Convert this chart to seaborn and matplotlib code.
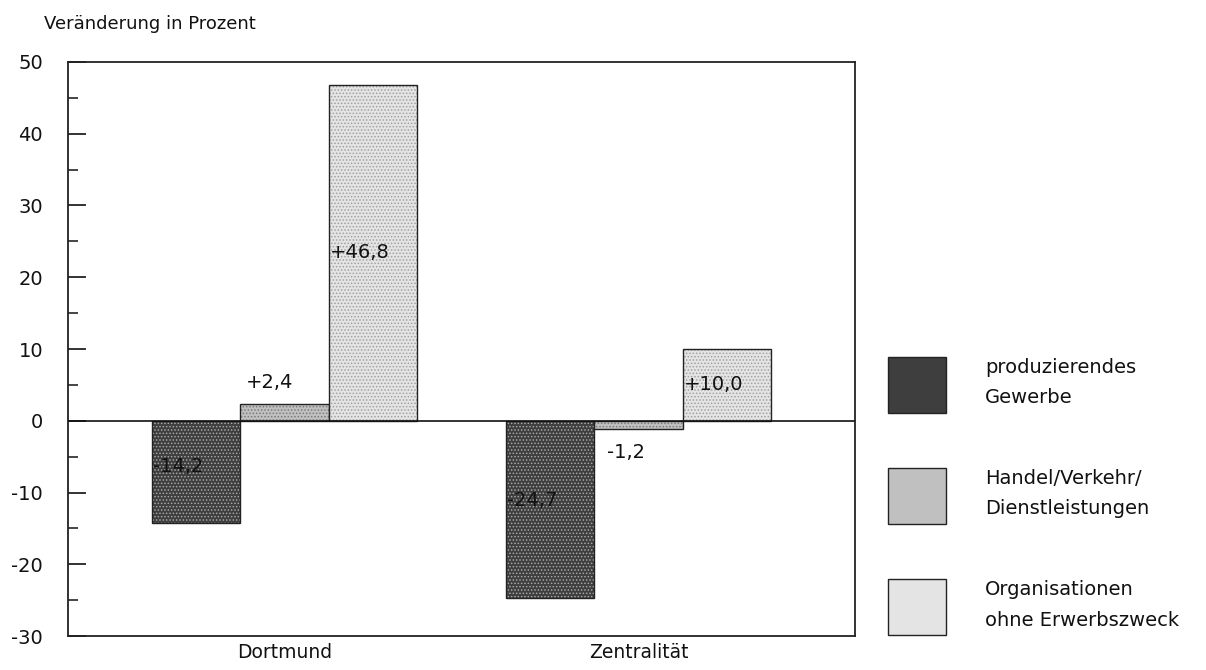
import matplotlib
matplotlib.use("Agg")
import matplotlib.pyplot as plt
import seaborn as sns
import pandas as pd
from matplotlib.ticker import MultipleLocator

# Data: change in percent by economic sector
gebiete = ["Dortmund", "Zentralität"]
bereiche = ["produzierendes\nGewerbe",
            "Handel/Verkehr/\nDienstleistungen",
            "Organisationen\nohne Erwerbszweck"]
werte_dortmund = [-14.2, 2.4, 46.8]
werte_zentral = [-24.7, -1.2, 10.0]
beschriftungen_dortmund = ["-14,2", "+2,4", "+46,8"]
beschriftungen_zentral = ["-24,7", "-1,2", "+10,0"]

df = pd.DataFrame({
    "Gebiet": [g for g in gebiete for _ in bereiche],
    "Bereich": bereiche * 2,
    "Wert": werte_dortmund + werte_zentral,
    "Label": beschriftungen_dortmund + beschriftungen_zentral,
})

sns.set_theme(style="white")
plt.rcParams["font.family"] = ["DejaVu Sans"]
plt.rcParams["axes.unicode_minus"] = False
plt.rcParams["hatch.linewidth"] = 0.7

farben = ["#3e3e3e", "#c0c0c0", "#e4e4e4"]
punktfarben = ["#a8a8a8", "#7a7a7a", "#a0a0a0"]
muster = ".....", ".....", "....."

fig = plt.figure(figsize=(12.06, 6.70), dpi=100)
ax = fig.add_axes([0.0564, 0.0507, 0.6526, 0.8568])

sns.barplot(data=df, x="Gebiet", y="Wert", hue="Bereich", hue_order=bereiche,
            order=gebiete, palette=farben, width=0.75, edgecolor="#222222",
            linewidth=1.0, saturation=1, ax=ax, errorbar=None)


def stipple(patch, h, c):
    patch.set_hatch(h)
    if hasattr(patch, "set_hatchcolor"):
        patch.set_hatchcolor(c)
    else:
        patch._hatch_color = matplotlib.colors.to_rgba(c)


for cont, h, c in zip(ax.containers, muster, punktfarben):
    for bar in cont:
        stipple(bar, h, c)

# value labels
for i, cont in enumerate(ax.containers):
    sub = df[df["Bereich"] == bereiche[i]].set_index("Gebiet").loc[gebiete]
    for bar, (_, row) in zip(cont, sub.iterrows()):
        v = row["Wert"]
        x0 = bar.get_x()
        if v >= 5:
            ax.text(x0 + 0.003, v / 2, row["Label"], ha="left", va="center",
                    fontsize=14, color="#111111")
        elif v <= -5:
            ax.text(x0 + 0.003, v * 0.45, row["Label"], ha="left", va="center",
                    fontsize=14, color="#111111")
        elif v > 0:
            ax.text(x0 + 0.017, v + 2.9, row["Label"], ha="left", va="center",
                    fontsize=14, color="#111111")
        else:
            ax.text(x0 + 0.037, v - 3.25, row["Label"], ha="left", va="center",
                    fontsize=14, color="#111111")

ax.axhline(0, color="#111111", lw=1.2, zorder=3)

ax.set_ylim(-30, 50)
ax.set_xlim(-0.611, 1.612)
ax.yaxis.set_major_locator(MultipleLocator(10))
ax.yaxis.set_minor_locator(MultipleLocator(5))
ax.tick_params(axis="y", which="major", direction="in", length=13, width=1.2,
               left=True, pad=18, labelsize=14, colors="#111111")
ax.tick_params(axis="y", which="minor", direction="in", length=7, width=1.2,
               left=True)
ax.tick_params(axis="x", length=0, pad=5, labelsize=13.5, colors="#111111")
ax.set_xlabel("")
ax.set_ylabel("")
for s in ax.spines.values():
    s.set_visible(True)
    s.set_color("#222222")
    s.set_linewidth(1.3)

fig.text(44 / 1206, 1 - 24 / 670, "Veränderung in Prozent", ha="left",
         va="center", fontsize=13, color="#111111")

handles, labels = ax.get_legend_handles_labels()
leg = ax.legend(handles, labels, loc="upper left",
                bbox_to_anchor=(888 / 1206, 1 - 357 / 670),
                bbox_transform=fig.transFigure, frameon=False, fontsize=14,
                handlelength=2.98, handleheight=4.05, labelspacing=2.84,
                handletextpad=2.0, borderpad=0, borderaxespad=0)
for t in leg.get_texts():
    t.set_linespacing(1.74)
    t.set_color("#111111")

fig.savefig("out.png", dpi=100, facecolor="white")
